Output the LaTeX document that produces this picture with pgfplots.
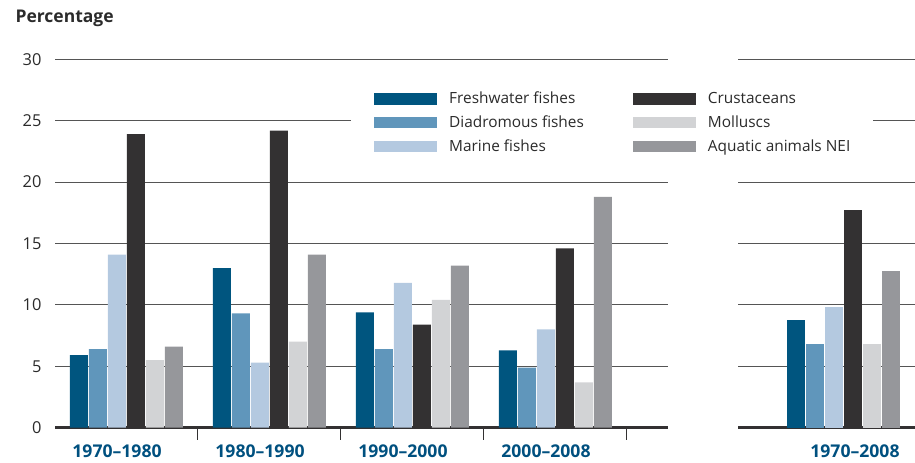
\documentclass[border=0pt]{standalone}
\usepackage{pgfplots}
\pgfplotsset{compat=1.18}
\usepackage{pgfplotstable}
\usepackage{fontspec}
\setmainfont{Open Sans}
\definecolor{cFresh}{HTML}{00557F}
\definecolor{cDiad}{HTML}{6096BB}
\definecolor{cMarine}{HTML}{B4C9E0}
\definecolor{cCrust}{HTML}{333132}
\definecolor{cMoll}{HTML}{D2D3D5}
\definecolor{cNEI}{HTML}{96979B}
\definecolor{cLabel}{HTML}{00507F}
\definecolor{cBase}{HTML}{333132}
\definecolor{cGrid}{HTML}{555555}
\definecolor{cText}{HTML}{2B2B2B}

\pgfplotstableread{
x fresh diad marine crust moll nei
0 5.9 6.4 14.1 23.9 5.5 6.6
1 13.0 9.3 5.3 24.2 7.0 14.1
2 9.4 6.4 11.8 8.4 10.4 13.2
3 6.3 4.9 8.0 14.6 3.7 18.8
}\periods
\pgfplotstableread{
x fresh diad marine crust moll nei
0 8.8 6.8 9.8 17.7 6.8 12.8
}\overall

\newcommand{\catfont}{\bfseries\fontsize{17.6bp}{18bp}\selectfont}
\pgfplotsset{
  mylegend/.style={legend image code/.code={\fill[##1] (0bp,-5.7bp) rectangle (63bp,5.7bp);}},
  common/.style={
    scale only axis, anchor=south west, height=368.4bp,
    ymin=0, ymax=30, enlargelimits=false, clip=false,
    ybar, bar width=18bp,
    axis x line*=bottom, axis y line*=left,
    y axis line style={draw=none},
    x axis line style={line width=3bp, color=cBase},
    ytick={0,5,...,30}, ytick style={draw=none},
    /pgf/number format/assume math mode=true,
    ymajorgrids, major grid style={line width=0.9bp, color=cGrid},
    xtick=\empty,
  },
}

\begin{document}
\begin{tikzpicture}
\path[use as bounding box] (0,0) rectangle (915bp,463bp);

% right panel (drawn first so the legend box covers its grid)
\begin{axis}[common, at={(738bp,35.3bp)}, width=177bp, xmin=-0.741, xmax=0.497,
  yticklabels={}]
\addplot[fill=cFresh, draw=none, bar shift=-47.5bp] table[x=x, y=fresh] {\overall};
\addplot[fill=cDiad, draw=none, bar shift=-28.5bp] table[x=x, y=diad] {\overall};
\addplot[fill=cMarine, draw=none, bar shift=-9.5bp] table[x=x, y=marine] {\overall};
\addplot[fill=cCrust, draw=none, bar shift=9.5bp] table[x=x, y=crust] {\overall};
\addplot[fill=cMoll, draw=none, bar shift=28.5bp] table[x=x, y=moll] {\overall};
\addplot[fill=cNEI, draw=none, bar shift=47.5bp] table[x=x, y=nei] {\overall};
\node[anchor=base, font=\catfont, text=cLabel] at (axis cs:0,0) [xshift=11bp, yshift=-30bp] {1970–2008};
\end{axis}

% left panel
\begin{axis}[common, at={(55bp,35.3bp)}, width=613bp, xmin=-0.5, xmax=3.787,
  extra x ticks={0.5,1.5,2.5,3.5}, extra x tick labels={},
  extra x tick style={tick align=outside, major tick length=12bp,
     tick style={draw=cBase, line width=1bp}},
  yticklabel style={inner sep=0pt, xshift=-13.3bp, text=cText,
     font=\fontsize{16.4bp}{17bp}\selectfont},
  legend style={at={(axis description cs:0.4829,0.9438)}, anchor=north west,
     draw=none, fill=white, inner xsep=23bp, inner ysep=12bp,
     font=\fontsize{15.4bp}{18bp}\selectfont, text=cText,
     nodes={inner sep=0pt}, row sep=10.5bp,
     /tikz/every odd column/.append style={column sep=12bp},
     /tikz/every even column/.append style={column sep=49bp}},
  legend columns=2, legend cell align=left]
\addplot[fill=cFresh, draw=none, forget plot, bar shift=-47.5bp] table[x=x, y=fresh] {\periods};
\addplot[fill=cDiad, draw=none, forget plot, bar shift=-28.5bp] table[x=x, y=diad] {\periods};
\addplot[fill=cMarine, draw=none, forget plot, bar shift=-9.5bp] table[x=x, y=marine] {\periods};
\addplot[fill=cCrust, draw=none, forget plot, bar shift=9.5bp] table[x=x, y=crust] {\periods};
\addplot[fill=cMoll, draw=none, forget plot, bar shift=28.5bp] table[x=x, y=moll] {\periods};
\addplot[fill=cNEI, draw=none, forget plot, bar shift=47.5bp] table[x=x, y=nei] {\periods};
\addlegendimage{fill=cFresh, draw=none, mylegend}\addlegendentry{Freshwater fishes}
\addlegendimage{fill=cCrust, draw=none, mylegend}\addlegendentry{Crustaceans}
\addlegendimage{fill=cDiad, draw=none, mylegend}\addlegendentry{Diadromous fishes}
\addlegendimage{fill=cMoll, draw=none, mylegend}\addlegendentry{Molluscs}
\addlegendimage{fill=cMarine, draw=none, mylegend}\addlegendentry{Marine fishes}
\addlegendimage{fill=cNEI, draw=none, mylegend}\addlegendentry{Aquatic animals NEI}
\node[anchor=base, font=\catfont, text=cLabel] at (axis cs:0,0) [xshift=-9.5bp, yshift=-30bp] {1970–1980};
\node[anchor=base, font=\catfont, text=cLabel] at (axis cs:1,0) [xshift=-9.5bp, yshift=-30bp] {1980–1990};
\node[anchor=base, font=\catfont, text=cLabel] at (axis cs:2,0) [xshift=-9.5bp, yshift=-30bp] {1990–2000};
\node[anchor=base, font=\catfont, text=cLabel] at (axis cs:3,0) [xshift=-9.5bp, yshift=-30bp] {2000–2008};
\end{axis}

\node[anchor=base west, font=\bfseries\fontsize{17.5bp}{18bp}\selectfont, text=cText] at (12bp,440.3bp) {Percentage};
\end{tikzpicture}
\end{document}
